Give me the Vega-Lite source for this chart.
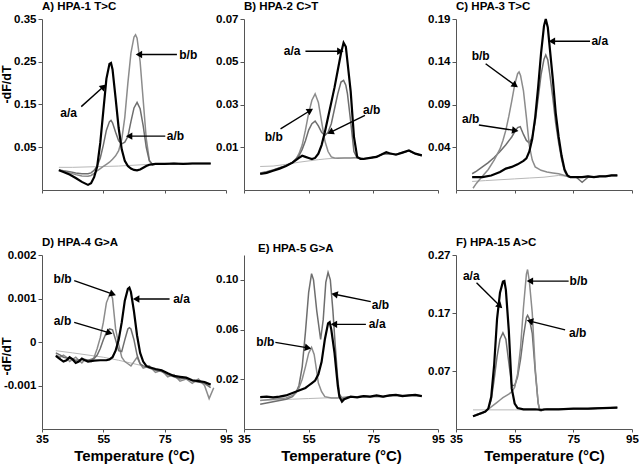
{
"$schema":"https://vega.github.io/schema/vega-lite/v6.json",
"background":"white",
"padding":{"left":0,"top":0,"right":0,"bottom":0},
"config":{
 "font":"Liberation Sans",
 "view":{"stroke":null},
 "axis":{"grid":false,"labelFont":"Liberation Sans","labelFontSize":11.5,"labelFontWeight":"bold","labelColor":"#000","domainColor":"#555","tickColor":"#555","tickSize":4,"labelPadding":2,"labelOverlap":false,"titleFont":"Liberation Sans","titleFontWeight":"bold","titleColor":"#000","titleFontSize":12.5},
 "axisX":{"labelFontSize":11.5,"titleFontSize":15,"titlePadding":4,"labelPadding":1,"tickSize":3,"labelFlush":false},
 "title":{"anchor":"start","fontSize":11.5,"fontWeight":"bold","font":"Liberation Sans","offset":1,"color":"#000","frame":"group"}
},
"datasets":{
"curves":[
{"p":"A","s":"aa","t":40.5,"v":-0.004},{"p":"A","s":"aa","t":42,"v":-0.008},{"p":"A","s":"aa","t":44,"v":-0.014},{"p":"A","s":"aa","t":46,"v":-0.022},{"p":"A","s":"aa","t":48,"v":-0.031},{"p":"A","s":"aa","t":50,"v":-0.038},{"p":"A","s":"aa","t":51,"v":-0.034},{"p":"A","s":"aa","t":52,"v":-0.02},{"p":"A","s":"aa","t":53,"v":0.005},{"p":"A","s":"aa","t":54,"v":0.06},{"p":"A","s":"aa","t":55,"v":0.135},{"p":"A","s":"aa","t":56,"v":0.21},{"p":"A","s":"aa","t":57,"v":0.245},{"p":"A","s":"aa","t":57.5,"v":0.247},{"p":"A","s":"aa","t":58,"v":0.232},{"p":"A","s":"aa","t":59,"v":0.165},{"p":"A","s":"aa","t":60,"v":0.095},{"p":"A","s":"aa","t":61,"v":0.045},{"p":"A","s":"aa","t":62,"v":0.018},{"p":"A","s":"aa","t":63,"v":0.006},{"p":"A","s":"aa","t":64,"v":0.0},{"p":"A","s":"aa","t":65,"v":-0.003},{"p":"A","s":"aa","t":66,"v":-0.004},{"p":"A","s":"aa","t":67,"v":-0.002},{"p":"A","s":"aa","t":68,"v":0.002},{"p":"A","s":"aa","t":69,"v":0.006},{"p":"A","s":"aa","t":70,"v":0.009},{"p":"A","s":"aa","t":71,"v":0.01},{"p":"A","s":"aa","t":72,"v":0.011},{"p":"A","s":"aa","t":75,"v":0.011},{"p":"A","s":"aa","t":78,"v":0.012},{"p":"A","s":"aa","t":81,"v":0.011},{"p":"A","s":"aa","t":84,"v":0.012},{"p":"A","s":"aa","t":87,"v":0.012},{"p":"A","s":"aa","t":90,"v":0.012},
{"p":"A","s":"bb","t":40.5,"v":-0.003},{"p":"A","s":"bb","t":42,"v":-0.006},{"p":"A","s":"bb","t":44,"v":-0.01},{"p":"A","s":"bb","t":46,"v":-0.014},{"p":"A","s":"bb","t":48,"v":-0.017},{"p":"A","s":"bb","t":50,"v":-0.018},{"p":"A","s":"bb","t":51,"v":-0.016},{"p":"A","s":"bb","t":52,"v":-0.011},{"p":"A","s":"bb","t":53,"v":-0.005},{"p":"A","s":"bb","t":54,"v":0.0},{"p":"A","s":"bb","t":55,"v":0.005},{"p":"A","s":"bb","t":56,"v":0.01},{"p":"A","s":"bb","t":57,"v":0.015},{"p":"A","s":"bb","t":58,"v":0.022},{"p":"A","s":"bb","t":59,"v":0.03},{"p":"A","s":"bb","t":60,"v":0.042},{"p":"A","s":"bb","t":61,"v":0.068},{"p":"A","s":"bb","t":62,"v":0.12},{"p":"A","s":"bb","t":63,"v":0.2},{"p":"A","s":"bb","t":64,"v":0.27},{"p":"A","s":"bb","t":65,"v":0.308},{"p":"A","s":"bb","t":65.5,"v":0.313},{"p":"A","s":"bb","t":66,"v":0.305},{"p":"A","s":"bb","t":67,"v":0.25},{"p":"A","s":"bb","t":68,"v":0.16},{"p":"A","s":"bb","t":69,"v":0.07},{"p":"A","s":"bb","t":70,"v":0.02},{"p":"A","s":"bb","t":71,"v":0.009},{"p":"A","s":"bb","t":72,"v":0.011},{"p":"A","s":"bb","t":75,"v":0.011},{"p":"A","s":"bb","t":78,"v":0.012},{"p":"A","s":"bb","t":81,"v":0.011},{"p":"A","s":"bb","t":84,"v":0.012},{"p":"A","s":"bb","t":87,"v":0.012},{"p":"A","s":"bb","t":90,"v":0.012},
{"p":"A","s":"ab","t":40.5,"v":-0.003},{"p":"A","s":"ab","t":42,"v":-0.005},{"p":"A","s":"ab","t":44,"v":-0.007},{"p":"A","s":"ab","t":46,"v":-0.01},{"p":"A","s":"ab","t":48,"v":-0.012},{"p":"A","s":"ab","t":50,"v":-0.012},{"p":"A","s":"ab","t":51,"v":-0.01},{"p":"A","s":"ab","t":52,"v":-0.004},{"p":"A","s":"ab","t":53,"v":0.006},{"p":"A","s":"ab","t":54,"v":0.025},{"p":"A","s":"ab","t":55,"v":0.055},{"p":"A","s":"ab","t":56,"v":0.09},{"p":"A","s":"ab","t":57,"v":0.11},{"p":"A","s":"ab","t":57.5,"v":0.113},{"p":"A","s":"ab","t":58,"v":0.107},{"p":"A","s":"ab","t":59,"v":0.085},{"p":"A","s":"ab","t":60,"v":0.065},{"p":"A","s":"ab","t":61,"v":0.058},{"p":"A","s":"ab","t":62,"v":0.062},{"p":"A","s":"ab","t":63,"v":0.075},{"p":"A","s":"ab","t":64,"v":0.11},{"p":"A","s":"ab","t":65,"v":0.142},{"p":"A","s":"ab","t":66,"v":0.155},{"p":"A","s":"ab","t":67,"v":0.14},{"p":"A","s":"ab","t":68,"v":0.1},{"p":"A","s":"ab","t":69,"v":0.05},{"p":"A","s":"ab","t":70,"v":0.018},{"p":"A","s":"ab","t":71,"v":0.01},{"p":"A","s":"ab","t":72,"v":0.011},{"p":"A","s":"ab","t":75,"v":0.011},{"p":"A","s":"ab","t":78,"v":0.012},{"p":"A","s":"ab","t":81,"v":0.011},{"p":"A","s":"ab","t":84,"v":0.012},{"p":"A","s":"ab","t":87,"v":0.012},{"p":"A","s":"ab","t":90,"v":0.012},
{"p":"A","s":"bl","t":40.5,"v":0.003},{"p":"A","s":"bl","t":45,"v":0.003},{"p":"A","s":"bl","t":50,"v":0.004},{"p":"A","s":"bl","t":55,"v":0.005},{"p":"A","s":"bl","t":60,"v":0.006},{"p":"A","s":"bl","t":65,"v":0.008},{"p":"A","s":"bl","t":70,"v":0.01},{"p":"A","s":"bl","t":72,"v":0.011},
{"p":"B","s":"aa","t":40,"v":-0.0025},{"p":"B","s":"aa","t":42,"v":-0.002},{"p":"B","s":"aa","t":44,"v":-0.001},{"p":"B","s":"aa","t":46,"v":0.0},{"p":"B","s":"aa","t":48,"v":0.0012},{"p":"B","s":"aa","t":50,"v":0.0028},{"p":"B","s":"aa","t":52,"v":0.005},{"p":"B","s":"aa","t":53,"v":0.006},{"p":"B","s":"aa","t":54,"v":0.0055},{"p":"B","s":"aa","t":55,"v":0.005},{"p":"B","s":"aa","t":56,"v":0.0045},{"p":"B","s":"aa","t":57,"v":0.005},{"p":"B","s":"aa","t":58,"v":0.007},{"p":"B","s":"aa","t":59,"v":0.011},{"p":"B","s":"aa","t":60,"v":0.017},{"p":"B","s":"aa","t":61,"v":0.024},{"p":"B","s":"aa","t":62,"v":0.031},{"p":"B","s":"aa","t":63,"v":0.038},{"p":"B","s":"aa","t":64,"v":0.046},{"p":"B","s":"aa","t":65,"v":0.054},{"p":"B","s":"aa","t":65.8,"v":0.0589},{"p":"B","s":"aa","t":66.5,"v":0.057},{"p":"B","s":"aa","t":67,"v":0.05},{"p":"B","s":"aa","t":68,"v":0.036},{"p":"B","s":"aa","t":69,"v":0.015},{"p":"B","s":"aa","t":70,"v":0.0055},{"p":"B","s":"aa","t":71,"v":0.0045},{"p":"B","s":"aa","t":72,"v":0.0045},{"p":"B","s":"aa","t":74,"v":0.005},{"p":"B","s":"aa","t":76,"v":0.0055},{"p":"B","s":"aa","t":78,"v":0.007},{"p":"B","s":"aa","t":79,"v":0.0077},{"p":"B","s":"aa","t":80,"v":0.0072},{"p":"B","s":"aa","t":82,"v":0.0065},{"p":"B","s":"aa","t":84,"v":0.0075},{"p":"B","s":"aa","t":86,"v":0.0085},{"p":"B","s":"aa","t":88,"v":0.007},{"p":"B","s":"aa","t":90,"v":0.0062},
{"p":"B","s":"bb","t":40,"v":-0.0022},{"p":"B","s":"bb","t":42,"v":-0.0017},{"p":"B","s":"bb","t":44,"v":-0.0007},{"p":"B","s":"bb","t":46,"v":0.0003},{"p":"B","s":"bb","t":48,"v":0.0013},{"p":"B","s":"bb","t":50,"v":0.0028},{"p":"B","s":"bb","t":51,"v":0.0042},{"p":"B","s":"bb","t":52,"v":0.007},{"p":"B","s":"bb","t":53,"v":0.011},{"p":"B","s":"bb","t":54,"v":0.018},{"p":"B","s":"bb","t":55,"v":0.026},{"p":"B","s":"bb","t":56,"v":0.032},{"p":"B","s":"bb","t":57,"v":0.035},{"p":"B","s":"bb","t":58,"v":0.031},{"p":"B","s":"bb","t":59,"v":0.022},{"p":"B","s":"bb","t":60,"v":0.013},{"p":"B","s":"bb","t":61,"v":0.008},{"p":"B","s":"bb","t":62,"v":0.0055},{"p":"B","s":"bb","t":63,"v":0.005},{"p":"B","s":"bb","t":64,"v":0.0048},{"p":"B","s":"bb","t":66,"v":0.005},{"p":"B","s":"bb","t":68,"v":0.005},{"p":"B","s":"bb","t":70,"v":0.0052},{"p":"B","s":"bb","t":72,"v":0.0046},{"p":"B","s":"bb","t":74,"v":0.005},{"p":"B","s":"bb","t":76,"v":0.0056},{"p":"B","s":"bb","t":78,"v":0.0068},{"p":"B","s":"bb","t":80,"v":0.007},{"p":"B","s":"bb","t":82,"v":0.0066},{"p":"B","s":"bb","t":84,"v":0.0074},{"p":"B","s":"bb","t":86,"v":0.0083},{"p":"B","s":"bb","t":88,"v":0.0069},{"p":"B","s":"bb","t":90,"v":0.006},
{"p":"B","s":"ab","t":40,"v":-0.002},{"p":"B","s":"ab","t":42,"v":-0.0015},{"p":"B","s":"ab","t":44,"v":-0.0006},{"p":"B","s":"ab","t":46,"v":0.0004},{"p":"B","s":"ab","t":48,"v":0.0014},{"p":"B","s":"ab","t":50,"v":0.003},{"p":"B","s":"ab","t":51,"v":0.0045},{"p":"B","s":"ab","t":52,"v":0.006},{"p":"B","s":"ab","t":53,"v":0.009},{"p":"B","s":"ab","t":54,"v":0.013},{"p":"B","s":"ab","t":55,"v":0.018},{"p":"B","s":"ab","t":56,"v":0.021},{"p":"B","s":"ab","t":57,"v":0.0222},{"p":"B","s":"ab","t":58,"v":0.02},{"p":"B","s":"ab","t":59,"v":0.017},{"p":"B","s":"ab","t":60,"v":0.0155},{"p":"B","s":"ab","t":61,"v":0.017},{"p":"B","s":"ab","t":62,"v":0.021},{"p":"B","s":"ab","t":63,"v":0.028},{"p":"B","s":"ab","t":64,"v":0.035},{"p":"B","s":"ab","t":65,"v":0.0405},{"p":"B","s":"ab","t":65.8,"v":0.0413},{"p":"B","s":"ab","t":66.5,"v":0.039},{"p":"B","s":"ab","t":67,"v":0.035},{"p":"B","s":"ab","t":68,"v":0.022},{"p":"B","s":"ab","t":69,"v":0.008},{"p":"B","s":"ab","t":70,"v":0.005},{"p":"B","s":"ab","t":72,"v":0.0047},{"p":"B","s":"ab","t":74,"v":0.005},{"p":"B","s":"ab","t":76,"v":0.0057},{"p":"B","s":"ab","t":78,"v":0.0069},{"p":"B","s":"ab","t":80,"v":0.0071},{"p":"B","s":"ab","t":82,"v":0.0067},{"p":"B","s":"ab","t":84,"v":0.0076},{"p":"B","s":"ab","t":86,"v":0.0084},{"p":"B","s":"ab","t":88,"v":0.007},{"p":"B","s":"ab","t":90,"v":0.0061},
{"p":"B","s":"bl","t":40,"v":0.001},{"p":"B","s":"bl","t":44,"v":0.0012},{"p":"B","s":"bl","t":48,"v":0.002},{"p":"B","s":"bl","t":52,"v":0.003},{"p":"B","s":"bl","t":56,"v":0.0038},{"p":"B","s":"bl","t":58,"v":0.0042},{"p":"B","s":"bl","t":60,"v":0.0045},{"p":"B","s":"bl","t":64,"v":0.005},{"p":"B","s":"bl","t":68,"v":0.005},{"p":"B","s":"bl","t":70,"v":0.005},
{"p":"C","s":"aa","t":40.5,"v":0.005},{"p":"C","s":"aa","t":44,"v":0.005},{"p":"C","s":"aa","t":47,"v":0.007},{"p":"C","s":"aa","t":50,"v":0.011},{"p":"C","s":"aa","t":52,"v":0.015},{"p":"C","s":"aa","t":54,"v":0.017},{"p":"C","s":"aa","t":56,"v":0.02},{"p":"C","s":"aa","t":58,"v":0.024},{"p":"C","s":"aa","t":59,"v":0.027},{"p":"C","s":"aa","t":60,"v":0.035},{"p":"C","s":"aa","t":61,"v":0.05},{"p":"C","s":"aa","t":62,"v":0.075},{"p":"C","s":"aa","t":63,"v":0.11},{"p":"C","s":"aa","t":64,"v":0.15},{"p":"C","s":"aa","t":65,"v":0.182},{"p":"C","s":"aa","t":65.6,"v":0.19},{"p":"C","s":"aa","t":66.3,"v":0.18},{"p":"C","s":"aa","t":67,"v":0.155},{"p":"C","s":"aa","t":68,"v":0.12},{"p":"C","s":"aa","t":69,"v":0.08},{"p":"C","s":"aa","t":70,"v":0.052},{"p":"C","s":"aa","t":71,"v":0.03},{"p":"C","s":"aa","t":72,"v":0.014},{"p":"C","s":"aa","t":73,"v":0.007},{"p":"C","s":"aa","t":74,"v":0.005},{"p":"C","s":"aa","t":76,"v":0.005},{"p":"C","s":"aa","t":78,"v":0.005},{"p":"C","s":"aa","t":80,"v":0.006},{"p":"C","s":"aa","t":82,"v":0.005},{"p":"C","s":"aa","t":84,"v":0.006},{"p":"C","s":"aa","t":86,"v":0.006},{"p":"C","s":"aa","t":88,"v":0.007},{"p":"C","s":"aa","t":90,"v":0.007},
{"p":"C","s":"ab","t":40.5,"v":0.009},{"p":"C","s":"ab","t":42,"v":0.012},{"p":"C","s":"ab","t":44,"v":0.017},{"p":"C","s":"ab","t":46,"v":0.022},{"p":"C","s":"ab","t":48,"v":0.028},{"p":"C","s":"ab","t":50,"v":0.035},{"p":"C","s":"ab","t":52,"v":0.043},{"p":"C","s":"ab","t":54,"v":0.052},{"p":"C","s":"ab","t":55,"v":0.058},{"p":"C","s":"ab","t":56,"v":0.063},{"p":"C","s":"ab","t":56.9,"v":0.064},{"p":"C","s":"ab","t":58,"v":0.055},{"p":"C","s":"ab","t":59,"v":0.048},{"p":"C","s":"ab","t":60,"v":0.045},{"p":"C","s":"ab","t":61,"v":0.052},{"p":"C","s":"ab","t":62,"v":0.07},{"p":"C","s":"ab","t":63,"v":0.097},{"p":"C","s":"ab","t":64,"v":0.125},{"p":"C","s":"ab","t":65,"v":0.143},{"p":"C","s":"ab","t":65.6,"v":0.148},{"p":"C","s":"ab","t":66.3,"v":0.142},{"p":"C","s":"ab","t":67,"v":0.125},{"p":"C","s":"ab","t":68,"v":0.098},{"p":"C","s":"ab","t":69,"v":0.068},{"p":"C","s":"ab","t":70,"v":0.045},{"p":"C","s":"ab","t":71,"v":0.026},{"p":"C","s":"ab","t":72,"v":0.012},{"p":"C","s":"ab","t":73,"v":0.006},{"p":"C","s":"ab","t":74,"v":0.005},{"p":"C","s":"ab","t":76,"v":0.005},{"p":"C","s":"ab","t":77,"v":0.002},{"p":"C","s":"ab","t":78,"v":-0.001},{"p":"C","s":"ab","t":79,"v":0.002},{"p":"C","s":"ab","t":80,"v":0.005},{"p":"C","s":"ab","t":82,"v":0.005},{"p":"C","s":"ab","t":84,"v":0.006},{"p":"C","s":"ab","t":86,"v":0.006},{"p":"C","s":"ab","t":88,"v":0.007},{"p":"C","s":"ab","t":90,"v":0.007},
{"p":"C","s":"bb","t":40.8,"v":-0.008},{"p":"C","s":"bb","t":42,"v":-0.002},{"p":"C","s":"bb","t":44,"v":0.006},{"p":"C","s":"bb","t":46,"v":0.014},{"p":"C","s":"bb","t":48,"v":0.025},{"p":"C","s":"bb","t":50,"v":0.038},{"p":"C","s":"bb","t":51,"v":0.048},{"p":"C","s":"bb","t":52,"v":0.06},{"p":"C","s":"bb","t":53,"v":0.076},{"p":"C","s":"bb","t":54,"v":0.094},{"p":"C","s":"bb","t":55,"v":0.113},{"p":"C","s":"bb","t":56,"v":0.126},{"p":"C","s":"bb","t":56.5,"v":0.128},{"p":"C","s":"bb","t":57,"v":0.124},{"p":"C","s":"bb","t":58,"v":0.106},{"p":"C","s":"bb","t":59,"v":0.075},{"p":"C","s":"bb","t":60,"v":0.042},{"p":"C","s":"bb","t":61,"v":0.025},{"p":"C","s":"bb","t":62,"v":0.017},{"p":"C","s":"bb","t":64,"v":0.013},{"p":"C","s":"bb","t":66,"v":0.011},{"p":"C","s":"bb","t":68,"v":0.01},{"p":"C","s":"bb","t":70,"v":0.009},{"p":"C","s":"bb","t":72,"v":0.007},{"p":"C","s":"bb","t":74,"v":0.005},{"p":"C","s":"bb","t":76,"v":0.005},{"p":"C","s":"bb","t":78,"v":0.005},{"p":"C","s":"bb","t":80,"v":0.006},{"p":"C","s":"bb","t":82,"v":0.005},{"p":"C","s":"bb","t":84,"v":0.006},{"p":"C","s":"bb","t":86,"v":0.006},{"p":"C","s":"bb","t":88,"v":0.007},{"p":"C","s":"bb","t":90,"v":0.007},
{"p":"C","s":"bl","t":40.5,"v":0.0},{"p":"C","s":"bl","t":45,"v":0.001},{"p":"C","s":"bl","t":50,"v":0.002},{"p":"C","s":"bl","t":55,"v":0.003},{"p":"C","s":"bl","t":60,"v":0.004},{"p":"C","s":"bl","t":65,"v":0.005},{"p":"C","s":"bl","t":70,"v":0.007},{"p":"C","s":"bl","t":73,"v":0.006},
{"p":"D","s":"aa","t":39.5,"v":-0.00032},{"p":"D","s":"aa","t":41,"v":-0.0004},{"p":"D","s":"aa","t":42,"v":-0.00045},{"p":"D","s":"aa","t":43,"v":-0.00042},{"p":"D","s":"aa","t":44,"v":-0.00035},{"p":"D","s":"aa","t":45,"v":-0.0004},{"p":"D","s":"aa","t":46,"v":-0.00048},{"p":"D","s":"aa","t":47,"v":-0.00045},{"p":"D","s":"aa","t":48,"v":-0.00038},{"p":"D","s":"aa","t":49,"v":-0.00042},{"p":"D","s":"aa","t":50,"v":-0.00045},{"p":"D","s":"aa","t":52,"v":-0.00043},{"p":"D","s":"aa","t":54,"v":-0.00042},{"p":"D","s":"aa","t":56,"v":-0.00042},{"p":"D","s":"aa","t":57,"v":-0.0004},{"p":"D","s":"aa","t":58,"v":-0.00035},{"p":"D","s":"aa","t":59,"v":-0.0002},{"p":"D","s":"aa","t":60,"v":0.00005},{"p":"D","s":"aa","t":61,"v":0.00045},{"p":"D","s":"aa","t":62,"v":0.00095},{"p":"D","s":"aa","t":63,"v":0.00122},{"p":"D","s":"aa","t":63.5,"v":0.00125},{"p":"D","s":"aa","t":64,"v":0.00115},{"p":"D","s":"aa","t":65,"v":0.0007},{"p":"D","s":"aa","t":66,"v":0.00015},{"p":"D","s":"aa","t":67,"v":-0.00025},{"p":"D","s":"aa","t":68,"v":-0.00045},{"p":"D","s":"aa","t":69,"v":-0.00055},{"p":"D","s":"aa","t":70,"v":-0.00058},{"p":"D","s":"aa","t":72,"v":-0.00062},{"p":"D","s":"aa","t":74,"v":-0.00065},{"p":"D","s":"aa","t":76,"v":-0.00072},{"p":"D","s":"aa","t":78,"v":-0.00078},{"p":"D","s":"aa","t":80,"v":-0.0008},{"p":"D","s":"aa","t":82,"v":-0.00082},{"p":"D","s":"aa","t":84,"v":-0.00088},{"p":"D","s":"aa","t":86,"v":-0.0009},{"p":"D","s":"aa","t":88,"v":-0.00092},{"p":"D","s":"aa","t":90,"v":-0.00098},
{"p":"D","s":"bb","t":39.5,"v":-0.0003},{"p":"D","s":"bb","t":41,"v":-0.00035},{"p":"D","s":"bb","t":42,"v":-0.0003},{"p":"D","s":"bb","t":43,"v":-0.00035},{"p":"D","s":"bb","t":44,"v":-0.00045},{"p":"D","s":"bb","t":45,"v":-0.0004},{"p":"D","s":"bb","t":46,"v":-0.00035},{"p":"D","s":"bb","t":47,"v":-0.00042},{"p":"D","s":"bb","t":48,"v":-0.00048},{"p":"D","s":"bb","t":49,"v":-0.0004},{"p":"D","s":"bb","t":50,"v":-0.00042},{"p":"D","s":"bb","t":51,"v":-0.00045},{"p":"D","s":"bb","t":52,"v":-0.00035},{"p":"D","s":"bb","t":53,"v":-0.00015},{"p":"D","s":"bb","t":54,"v":0.0001},{"p":"D","s":"bb","t":55,"v":0.00045},{"p":"D","s":"bb","t":56,"v":0.0009},{"p":"D","s":"bb","t":57,"v":0.00108},{"p":"D","s":"bb","t":57.5,"v":0.0011},{"p":"D","s":"bb","t":58,"v":0.001},{"p":"D","s":"bb","t":59,"v":0.0003},{"p":"D","s":"bb","t":60,"v":-0.00005},{"p":"D","s":"bb","t":61,"v":-0.00035},{"p":"D","s":"bb","t":62,"v":-0.00045},{"p":"D","s":"bb","t":63,"v":-0.0005},{"p":"D","s":"bb","t":64,"v":-0.00055},{"p":"D","s":"bb","t":65,"v":-0.00045},{"p":"D","s":"bb","t":66,"v":-0.00035},{"p":"D","s":"bb","t":67,"v":-0.0005},{"p":"D","s":"bb","t":68,"v":-0.0006},{"p":"D","s":"bb","t":70,"v":-0.00055},{"p":"D","s":"bb","t":72,"v":-0.0007},{"p":"D","s":"bb","t":74,"v":-0.00065},{"p":"D","s":"bb","t":76,"v":-0.0008},{"p":"D","s":"bb","t":78,"v":-0.00075},{"p":"D","s":"bb","t":80,"v":-0.0009},{"p":"D","s":"bb","t":82,"v":-0.00085},{"p":"D","s":"bb","t":84,"v":-0.00095},{"p":"D","s":"bb","t":86,"v":-0.00085},{"p":"D","s":"bb","t":88,"v":-0.001},{"p":"D","s":"bb","t":89.5,"v":-0.0013},{"p":"D","s":"bb","t":91,"v":-0.00105},
{"p":"D","s":"ab","t":39.5,"v":-0.00025},{"p":"D","s":"ab","t":41,"v":-0.0003},{"p":"D","s":"ab","t":42,"v":-0.00035},{"p":"D","s":"ab","t":44,"v":-0.00038},{"p":"D","s":"ab","t":46,"v":-0.00042},{"p":"D","s":"ab","t":48,"v":-0.0004},{"p":"D","s":"ab","t":50,"v":-0.00042},{"p":"D","s":"ab","t":52,"v":-0.00038},{"p":"D","s":"ab","t":53,"v":-0.0003},{"p":"D","s":"ab","t":54,"v":-0.00015},{"p":"D","s":"ab","t":55,"v":0.00005},{"p":"D","s":"ab","t":56,"v":0.00022},{"p":"D","s":"ab","t":57,"v":0.0003},{"p":"D","s":"ab","t":58,"v":0.00028},{"p":"D","s":"ab","t":59,"v":0.00005},{"p":"D","s":"ab","t":60,"v":-0.0002},{"p":"D","s":"ab","t":61,"v":-0.00022},{"p":"D","s":"ab","t":62,"v":0.00005},{"p":"D","s":"ab","t":63,"v":0.0003},{"p":"D","s":"ab","t":63.5,"v":0.00033},{"p":"D","s":"ab","t":64,"v":0.0003},{"p":"D","s":"ab","t":65,"v":0.00005},{"p":"D","s":"ab","t":66,"v":-0.0003},{"p":"D","s":"ab","t":67,"v":-0.0005},{"p":"D","s":"ab","t":68,"v":-0.00055},{"p":"D","s":"ab","t":70,"v":-0.0006},{"p":"D","s":"ab","t":72,"v":-0.00065},{"p":"D","s":"ab","t":74,"v":-0.00068},{"p":"D","s":"ab","t":76,"v":-0.00075},{"p":"D","s":"ab","t":78,"v":-0.0008},{"p":"D","s":"ab","t":80,"v":-0.00085},{"p":"D","s":"ab","t":82,"v":-0.00082},{"p":"D","s":"ab","t":84,"v":-0.0009},{"p":"D","s":"ab","t":86,"v":-0.00092},{"p":"D","s":"ab","t":88,"v":-0.00095},{"p":"D","s":"ab","t":90,"v":-0.00105},
{"p":"D","s":"bl","t":39.5,"v":-0.0002},{"p":"D","s":"bl","t":45,"v":-0.00025},{"p":"D","s":"bl","t":50,"v":-0.0003},{"p":"D","s":"bl","t":55,"v":-0.00035},{"p":"D","s":"bl","t":60,"v":-0.00042},{"p":"D","s":"bl","t":65,"v":-0.0005},{"p":"D","s":"bl","t":68,"v":-0.00055},
{"p":"E","s":"aa","t":40,"v":0.0057},{"p":"E","s":"aa","t":42,"v":0.006},{"p":"E","s":"aa","t":44,"v":0.0055},{"p":"E","s":"aa","t":46,"v":0.006},{"p":"E","s":"aa","t":48,"v":0.007},{"p":"E","s":"aa","t":50,"v":0.009},{"p":"E","s":"aa","t":52,"v":0.011},{"p":"E","s":"aa","t":54,"v":0.013},{"p":"E","s":"aa","t":55,"v":0.015},{"p":"E","s":"aa","t":56,"v":0.017},{"p":"E","s":"aa","t":57,"v":0.019},{"p":"E","s":"aa","t":58,"v":0.024},{"p":"E","s":"aa","t":59,"v":0.034},{"p":"E","s":"aa","t":60,"v":0.052},{"p":"E","s":"aa","t":61,"v":0.065},{"p":"E","s":"aa","t":61.5,"v":0.066},{"p":"E","s":"aa","t":62,"v":0.06},{"p":"E","s":"aa","t":63,"v":0.041},{"p":"E","s":"aa","t":64,"v":0.015},{"p":"E","s":"aa","t":64.5,"v":0.006},{"p":"E","s":"aa","t":65.3,"v":0.002},{"p":"E","s":"aa","t":66,"v":0.004},{"p":"E","s":"aa","t":68,"v":0.006},{"p":"E","s":"aa","t":70,"v":0.0055},{"p":"E","s":"aa","t":72,"v":0.0065},{"p":"E","s":"aa","t":74,"v":0.006},{"p":"E","s":"aa","t":76,"v":0.007},{"p":"E","s":"aa","t":78,"v":0.006},{"p":"E","s":"aa","t":80,"v":0.007},{"p":"E","s":"aa","t":82,"v":0.0075},{"p":"E","s":"aa","t":84,"v":0.0065},{"p":"E","s":"aa","t":86,"v":0.007},{"p":"E","s":"aa","t":88,"v":0.0075},{"p":"E","s":"aa","t":90,"v":0.0065},
{"p":"E","s":"ab","t":40,"v":0.0},{"p":"E","s":"ab","t":42,"v":0.001},{"p":"E","s":"ab","t":44,"v":0.002},{"p":"E","s":"ab","t":46,"v":0.003},{"p":"E","s":"ab","t":48,"v":0.004},{"p":"E","s":"ab","t":50,"v":0.006},{"p":"E","s":"ab","t":51,"v":0.009},{"p":"E","s":"ab","t":52,"v":0.015},{"p":"E","s":"ab","t":53,"v":0.03},{"p":"E","s":"ab","t":54,"v":0.058},{"p":"E","s":"ab","t":55,"v":0.09},{"p":"E","s":"ab","t":55.9,"v":0.105},{"p":"E","s":"ab","t":56.5,"v":0.1},{"p":"E","s":"ab","t":57.5,"v":0.075},{"p":"E","s":"ab","t":58.7,"v":0.052},{"p":"E","s":"ab","t":59.5,"v":0.068},{"p":"E","s":"ab","t":60.3,"v":0.098},{"p":"E","s":"ab","t":61,"v":0.106},{"p":"E","s":"ab","t":61.7,"v":0.1},{"p":"E","s":"ab","t":62.5,"v":0.075},{"p":"E","s":"ab","t":63.2,"v":0.048},{"p":"E","s":"ab","t":64,"v":0.02},{"p":"E","s":"ab","t":64.5,"v":0.008},{"p":"E","s":"ab","t":65.5,"v":0.004},{"p":"E","s":"ab","t":67,"v":0.006},{"p":"E","s":"ab","t":70,"v":0.006},{"p":"E","s":"ab","t":72,"v":0.0065},{"p":"E","s":"ab","t":74,"v":0.006},{"p":"E","s":"ab","t":76,"v":0.0068},{"p":"E","s":"ab","t":78,"v":0.006},{"p":"E","s":"ab","t":80,"v":0.007},{"p":"E","s":"ab","t":82,"v":0.0073},{"p":"E","s":"ab","t":84,"v":0.0066},{"p":"E","s":"ab","t":86,"v":0.007},{"p":"E","s":"ab","t":88,"v":0.0074},{"p":"E","s":"ab","t":90,"v":0.0066},
{"p":"E","s":"bb","t":40,"v":0.003},{"p":"E","s":"bb","t":44,"v":0.004},{"p":"E","s":"bb","t":48,"v":0.005},{"p":"E","s":"bb","t":50,"v":0.007},{"p":"E","s":"bb","t":51,"v":0.009},{"p":"E","s":"bb","t":52,"v":0.013},{"p":"E","s":"bb","t":53,"v":0.02},{"p":"E","s":"bb","t":54,"v":0.03},{"p":"E","s":"bb","t":55,"v":0.041},{"p":"E","s":"bb","t":55.9,"v":0.0456},{"p":"E","s":"bb","t":56.7,"v":0.04},{"p":"E","s":"bb","t":57.4,"v":0.028},{"p":"E","s":"bb","t":58,"v":0.017},{"p":"E","s":"bb","t":59,"v":0.01},{"p":"E","s":"bb","t":60,"v":0.006},{"p":"E","s":"bb","t":62,"v":0.005},{"p":"E","s":"bb","t":64,"v":0.005},{"p":"E","s":"bb","t":66,"v":0.0055},{"p":"E","s":"bb","t":70,"v":0.006},{"p":"E","s":"bb","t":74,"v":0.006},{"p":"E","s":"bb","t":78,"v":0.006},{"p":"E","s":"bb","t":82,"v":0.0072},{"p":"E","s":"bb","t":86,"v":0.007},{"p":"E","s":"bb","t":90,"v":0.0065},
{"p":"E","s":"bl","t":40,"v":0.003},{"p":"E","s":"bl","t":45,"v":0.0035},{"p":"E","s":"bl","t":50,"v":0.004},{"p":"E","s":"bl","t":55,"v":0.0045},{"p":"E","s":"bl","t":60,"v":0.005},{"p":"E","s":"bl","t":64,"v":0.005},
{"p":"F","s":"aa","t":40.8,"v":-0.008},{"p":"F","s":"aa","t":42,"v":-0.006},{"p":"F","s":"aa","t":43.5,"v":-0.003},{"p":"F","s":"aa","t":45,"v":0.0},{"p":"F","s":"aa","t":46,"v":0.005},{"p":"F","s":"aa","t":47,"v":0.025},{"p":"F","s":"aa","t":48,"v":0.08},{"p":"F","s":"aa","t":49,"v":0.16},{"p":"F","s":"aa","t":50,"v":0.205},{"p":"F","s":"aa","t":51,"v":0.224},{"p":"F","s":"aa","t":51.5,"v":0.225},{"p":"F","s":"aa","t":52,"v":0.21},{"p":"F","s":"aa","t":53,"v":0.14},{"p":"F","s":"aa","t":54,"v":0.04},{"p":"F","s":"aa","t":55,"v":0.014},{"p":"F","s":"aa","t":56,"v":0.006},{"p":"F","s":"aa","t":58,"v":0.004},{"p":"F","s":"aa","t":60,"v":0.004},{"p":"F","s":"aa","t":62,"v":0.004},{"p":"F","s":"aa","t":64,"v":0.003},{"p":"F","s":"aa","t":66,"v":0.004},{"p":"F","s":"aa","t":70,"v":0.004},{"p":"F","s":"aa","t":75,"v":0.005},{"p":"F","s":"aa","t":80,"v":0.005},{"p":"F","s":"aa","t":85,"v":0.006},{"p":"F","s":"aa","t":90,"v":0.007},
{"p":"F","s":"ab","t":40.8,"v":-0.008},{"p":"F","s":"ab","t":42,"v":-0.006},{"p":"F","s":"ab","t":44,"v":-0.003},{"p":"F","s":"ab","t":45,"v":0.0},{"p":"F","s":"ab","t":46,"v":0.005},{"p":"F","s":"ab","t":47,"v":0.02},{"p":"F","s":"ab","t":48,"v":0.055},{"p":"F","s":"ab","t":49,"v":0.095},{"p":"F","s":"ab","t":50,"v":0.125},{"p":"F","s":"ab","t":51,"v":0.136},{"p":"F","s":"ab","t":52,"v":0.125},{"p":"F","s":"ab","t":53,"v":0.085},{"p":"F","s":"ab","t":54,"v":0.045},{"p":"F","s":"ab","t":55,"v":0.045},{"p":"F","s":"ab","t":56,"v":0.06},{"p":"F","s":"ab","t":57,"v":0.09},{"p":"F","s":"ab","t":58,"v":0.13},{"p":"F","s":"ab","t":59,"v":0.162},{"p":"F","s":"ab","t":59.4,"v":0.166},{"p":"F","s":"ab","t":60,"v":0.16},{"p":"F","s":"ab","t":61,"v":0.135},{"p":"F","s":"ab","t":62,"v":0.07},{"p":"F","s":"ab","t":63,"v":0.015},{"p":"F","s":"ab","t":63.5,"v":0.004},{"p":"F","s":"ab","t":64,"v":0.002},{"p":"F","s":"ab","t":65,"v":0.004},{"p":"F","s":"ab","t":70,"v":0.004},{"p":"F","s":"ab","t":75,"v":0.005},{"p":"F","s":"ab","t":80,"v":0.005},{"p":"F","s":"ab","t":85,"v":0.006},{"p":"F","s":"ab","t":90,"v":0.007},
{"p":"F","s":"bb","t":40.8,"v":-0.008},{"p":"F","s":"bb","t":42,"v":-0.005},{"p":"F","s":"bb","t":44,"v":-0.002},{"p":"F","s":"bb","t":45,"v":0.0},{"p":"F","s":"bb","t":46,"v":0.004},{"p":"F","s":"bb","t":47,"v":0.008},{"p":"F","s":"bb","t":48,"v":0.012},{"p":"F","s":"bb","t":49,"v":0.016},{"p":"F","s":"bb","t":50,"v":0.02},{"p":"F","s":"bb","t":51,"v":0.024},{"p":"F","s":"bb","t":52,"v":0.027},{"p":"F","s":"bb","t":53,"v":0.03},{"p":"F","s":"bb","t":54,"v":0.034},{"p":"F","s":"bb","t":55,"v":0.042},{"p":"F","s":"bb","t":56,"v":0.065},{"p":"F","s":"bb","t":57,"v":0.11},{"p":"F","s":"bb","t":58,"v":0.18},{"p":"F","s":"bb","t":59,"v":0.237},{"p":"F","s":"bb","t":59.4,"v":0.245},{"p":"F","s":"bb","t":60,"v":0.225},{"p":"F","s":"bb","t":61,"v":0.17},{"p":"F","s":"bb","t":62,"v":0.075},{"p":"F","s":"bb","t":63,"v":0.015},{"p":"F","s":"bb","t":63.5,"v":0.002},{"p":"F","s":"bb","t":64,"v":0.001},{"p":"F","s":"bb","t":65,"v":0.004},{"p":"F","s":"bb","t":70,"v":0.004},{"p":"F","s":"bb","t":75,"v":0.005},{"p":"F","s":"bb","t":80,"v":0.005},{"p":"F","s":"bb","t":85,"v":0.006},{"p":"F","s":"bb","t":90,"v":0.007},
{"p":"F","s":"bl","t":40.8,"v":0.003},{"p":"F","s":"bl","t":50,"v":0.003},{"p":"F","s":"bl","t":55,"v":0.003},{"p":"F","s":"bl","t":60,"v":0.003},{"p":"F","s":"bl","t":63,"v":0.003}
],
"notes":[
{"p":"A","lab":"a/a","lt":43.7,"lv":0.129,"t1":47.8,"v1":0.145,"t2":55.1,"v2":0.192,"dir":-41.5},
{"p":"A","lab":"b/b","lt":82.7,"lv":0.265,"t1":79,"v1":0.267,"t2":66.6,"v2":0.267,"dir":180},
{"p":"A","lab":"a/b","lt":78.5,"lv":0.076,"t1":75.2,"v1":0.076,"t2":63.4,"v2":0.076,"dir":180},
{"p":"B","lab":"a/a","lt":49.9,"lv":0.0549,"t1":54,"v1":0.0549,"t2":64.8,"v2":0.0549,"dir":0},
{"p":"B","lab":"b/b","lt":44.2,"lv":0.0147,"t1":46.3,"v1":0.0186,"t2":55.5,"v2":0.0272,"dir":-31.5},
{"p":"B","lab":"a/b","lt":74.5,"lv":0.0272,"t1":72.4,"v1":0.0249,"t2":61.7,"v2":0.017,"dir":154.5},
{"p":"C","lab":"a/a","lt":84,"lv":0.164,"t1":80.7,"v1":0.164,"t2":67.7,"v2":0.164,"dir":180},
{"p":"C","lab":"b/b","lt":43.4,"lv":0.1466,"t1":45.1,"v1":0.1376,"t2":55.2,"v2":0.1123,"dir":35.8},
{"p":"C","lab":"a/b","lt":40,"lv":0.0725,"t1":42.8,"v1":0.0661,"t2":55.2,"v2":0.0596,"dir":8.7},
{"p":"D","lab":"b/b","lt":41.7,"lv":0.00145,"t1":45.5,"v1":0.00141,"t2":58.1,"v2":0.0011,"dir":19.2},
{"p":"D","lab":"a/b","lt":41.7,"lv":0.00048,"t1":45.5,"v1":0.00045,"t2":57,"v2":0.00021,"dir":16},
{"p":"D","lab":"a/a","lt":80.5,"lv":0.00099,"t1":76.6,"v1":0.00099,"t2":65.7,"v2":0.00099,"dir":180},
{"p":"E","lab":"a/b","lt":77.2,"lv":0.0798,"t1":74.2,"v1":0.0825,"t2":63,"v2":0.0884,"dir":191.4},
{"p":"E","lab":"a/a","lt":76.2,"lv":0.0642,"t1":72.7,"v1":0.0642,"t2":62.8,"v2":0.0642,"dir":180},
{"p":"E","lab":"b/b","lt":41.6,"lv":0.0497,"t1":44.7,"v1":0.0497,"t2":54.8,"v2":0.0453,"dir":10.2},
{"p":"F","lab":"a/a","lt":40.2,"lv":0.234,"t1":42,"v1":0.222,"t2":50,"v2":0.182,"dir":44.9},
{"p":"F","lab":"b/b","lt":76.8,"lv":0.225,"t1":73.4,"v1":0.225,"t2":60.2,"v2":0.225,"dir":180},
{"p":"F","lab":"a/b","lt":76.5,"lv":0.135,"t1":72.2,"v1":0.141,"t2":60.2,"v2":0.156,"dir":194.4}
]
},
"vconcat":[
{"hconcat":[
{"width":184,"height":171,"title":{"text":"A) HPA-1 T>C"},
"layer":[
{"data":{"name":"curves"},"transform":[{"filter":"datum.p==='A' && datum.s==='bl'"}],"mark":{"type":"line","color":"#b8b8b8","strokeWidth":1},
"encoding":{"x":{"field":"t","type":"quantitative","scale":{"domain":[35,95],"nice":false},"axis":{"values":[35,55,75,95],"labels":false,"title":null}},
"y":{"field":"v","type":"quantitative","scale":{"domain":[-0.05,0.35],"nice":false,"zero":false},"axis":{"values":[0.05,0.15,0.25,0.35],"format":".2f","title":"-dF/dT","titleX":-36,"titleY":65,"titleBaseline":"middle"}}}},
{"data":{"name":"curves"},"transform":[{"filter":"datum.p==='A' && (datum.s==='ab' || datum.s==='bb')"}],"mark":{"type":"line","strokeWidth":1.5},
"encoding":{"x":{"field":"t","type":"quantitative","scale":{"domain":[35,95],"nice":false}},"y":{"field":"v","type":"quantitative","scale":{"domain":[-0.05,0.35],"nice":false,"zero":false}},"color":{"field":"s","type":"nominal","scale":{"domain":["ab","bb"],"range":["#6e6e6e","#8c8c8c"]},"legend":null}}},
{"data":{"name":"curves"},"transform":[{"filter":"datum.p==='A' && datum.s==='aa'"}],"mark":{"type":"line","color":"#000","strokeWidth":2.2},
"encoding":{"x":{"field":"t","type":"quantitative","scale":{"domain":[35,95],"nice":false}},"y":{"field":"v","type":"quantitative","scale":{"domain":[-0.05,0.35],"nice":false,"zero":false}}}},
{"data":{"name":"notes"},"transform":[{"filter":"datum.p==='A'"}],"mark":{"type":"rule","color":"#000","strokeWidth":1.4},
"encoding":{"x":{"field":"t1","type":"quantitative","scale":{"domain":[35,95],"nice":false}},"y":{"field":"v1","type":"quantitative","scale":{"domain":[-0.05,0.35],"nice":false,"zero":false}},"x2":{"field":"t2"},"y2":{"field":"v2"}}},
{"data":{"name":"notes"},"transform":[{"filter":"datum.p==='A'"}],"mark":{"type":"point","shape":"triangle-right","filled":true,"color":"#000","opacity":1,"size":55},
"encoding":{"x":{"field":"t2","type":"quantitative","scale":{"domain":[35,95],"nice":false}},"y":{"field":"v2","type":"quantitative","scale":{"domain":[-0.05,0.35],"nice":false,"zero":false}},"angle":{"field":"dir","type":"quantitative","scale":null}}},
{"data":{"name":"notes"},"transform":[{"filter":"datum.p==='A'"}],"mark":{"type":"text","fontWeight":"bold","fontSize":12,"font":"Liberation Sans","color":"#000"},
"encoding":{"x":{"field":"lt","type":"quantitative","scale":{"domain":[35,95],"nice":false}},"y":{"field":"lv","type":"quantitative","scale":{"domain":[-0.05,0.35],"nice":false,"zero":false}},"text":{"field":"lab"}}}
]},
{"width":194,"height":171,"title":{"text":"B) HPA-2 C>T"},
"layer":[
{"data":{"name":"curves"},"transform":[{"filter":"datum.p==='B' && datum.s==='bl'"}],"mark":{"type":"line","color":"#b8b8b8","strokeWidth":1},
"encoding":{"x":{"field":"t","type":"quantitative","scale":{"domain":[35,95],"nice":false},"axis":{"values":[35,55,75,95],"labels":false,"title":null}},
"y":{"field":"v","type":"quantitative","scale":{"domain":[-0.01,0.07],"nice":false,"zero":false},"axis":{"values":[0.01,0.03,0.05,0.07],"format":".2f","title":null}}}},
{"data":{"name":"curves"},"transform":[{"filter":"datum.p==='B' && (datum.s==='ab' || datum.s==='bb')"}],"mark":{"type":"line","strokeWidth":1.5},
"encoding":{"x":{"field":"t","type":"quantitative","scale":{"domain":[35,95],"nice":false}},"y":{"field":"v","type":"quantitative","scale":{"domain":[-0.01,0.07],"nice":false,"zero":false}},"color":{"field":"s","type":"nominal","scale":{"domain":["ab","bb"],"range":["#6e6e6e","#8c8c8c"]},"legend":null}}},
{"data":{"name":"curves"},"transform":[{"filter":"datum.p==='B' && datum.s==='aa'"}],"mark":{"type":"line","color":"#000","strokeWidth":2.2},
"encoding":{"x":{"field":"t","type":"quantitative","scale":{"domain":[35,95],"nice":false}},"y":{"field":"v","type":"quantitative","scale":{"domain":[-0.01,0.07],"nice":false,"zero":false}}}},
{"data":{"name":"notes"},"transform":[{"filter":"datum.p==='B'"}],"mark":{"type":"rule","color":"#000","strokeWidth":1.4},
"encoding":{"x":{"field":"t1","type":"quantitative","scale":{"domain":[35,95],"nice":false}},"y":{"field":"v1","type":"quantitative","scale":{"domain":[-0.01,0.07],"nice":false,"zero":false}},"x2":{"field":"t2"},"y2":{"field":"v2"}}},
{"data":{"name":"notes"},"transform":[{"filter":"datum.p==='B'"}],"mark":{"type":"point","shape":"triangle-right","filled":true,"color":"#000","opacity":1,"size":55},
"encoding":{"x":{"field":"t2","type":"quantitative","scale":{"domain":[35,95],"nice":false}},"y":{"field":"v2","type":"quantitative","scale":{"domain":[-0.01,0.07],"nice":false,"zero":false}},"angle":{"field":"dir","type":"quantitative","scale":null}}},
{"data":{"name":"notes"},"transform":[{"filter":"datum.p==='B'"}],"mark":{"type":"text","fontWeight":"bold","fontSize":12,"font":"Liberation Sans","color":"#000"},
"encoding":{"x":{"field":"lt","type":"quantitative","scale":{"domain":[35,95],"nice":false}},"y":{"field":"lv","type":"quantitative","scale":{"domain":[-0.01,0.07],"nice":false,"zero":false}},"text":{"field":"lab"}}}
]},
{"width":176,"height":171,"title":{"text":"C) HPA-3 T>C"},
"layer":[
{"data":{"name":"curves"},"transform":[{"filter":"datum.p==='C' && datum.s==='bl'"}],"mark":{"type":"line","color":"#b8b8b8","strokeWidth":1},
"encoding":{"x":{"field":"t","type":"quantitative","scale":{"domain":[35,95],"nice":false},"axis":{"values":[35,55,75,95],"labels":false,"title":null}},
"y":{"field":"v","type":"quantitative","scale":{"domain":[-0.01,0.19],"nice":false,"zero":false},"axis":{"values":[0.04,0.09,0.14,0.19],"format":".2f","title":null}}}},
{"data":{"name":"curves"},"transform":[{"filter":"datum.p==='C' && (datum.s==='ab' || datum.s==='bb')"}],"mark":{"type":"line","strokeWidth":1.5},
"encoding":{"x":{"field":"t","type":"quantitative","scale":{"domain":[35,95],"nice":false}},"y":{"field":"v","type":"quantitative","scale":{"domain":[-0.01,0.19],"nice":false,"zero":false}},"color":{"field":"s","type":"nominal","scale":{"domain":["ab","bb"],"range":["#6e6e6e","#8c8c8c"]},"legend":null}}},
{"data":{"name":"curves"},"transform":[{"filter":"datum.p==='C' && datum.s==='aa'"}],"mark":{"type":"line","color":"#000","strokeWidth":2.2},
"encoding":{"x":{"field":"t","type":"quantitative","scale":{"domain":[35,95],"nice":false}},"y":{"field":"v","type":"quantitative","scale":{"domain":[-0.01,0.19],"nice":false,"zero":false}}}},
{"data":{"name":"notes"},"transform":[{"filter":"datum.p==='C'"}],"mark":{"type":"rule","color":"#000","strokeWidth":1.4},
"encoding":{"x":{"field":"t1","type":"quantitative","scale":{"domain":[35,95],"nice":false}},"y":{"field":"v1","type":"quantitative","scale":{"domain":[-0.01,0.19],"nice":false,"zero":false}},"x2":{"field":"t2"},"y2":{"field":"v2"}}},
{"data":{"name":"notes"},"transform":[{"filter":"datum.p==='C'"}],"mark":{"type":"point","shape":"triangle-right","filled":true,"color":"#000","opacity":1,"size":55},
"encoding":{"x":{"field":"t2","type":"quantitative","scale":{"domain":[35,95],"nice":false}},"y":{"field":"v2","type":"quantitative","scale":{"domain":[-0.01,0.19],"nice":false,"zero":false}},"angle":{"field":"dir","type":"quantitative","scale":null}}},
{"data":{"name":"notes"},"transform":[{"filter":"datum.p==='C'"}],"mark":{"type":"text","fontWeight":"bold","fontSize":12,"font":"Liberation Sans","color":"#000"},
"encoding":{"x":{"field":"lt","type":"quantitative","scale":{"domain":[35,95],"nice":false}},"y":{"field":"lv","type":"quantitative","scale":{"domain":[-0.01,0.19],"nice":false,"zero":false}},"text":{"field":"lab"}}}
]}
],"spacing":18,"bounds":"flush"},
{"hconcat":[
{"width":184,"height":174,"title":{"text":"D) HPA-4 G>A"},
"layer":[
{"data":{"name":"curves"},"transform":[{"filter":"datum.p==='D' && datum.s==='bl'"}],"mark":{"type":"line","color":"#b8b8b8","strokeWidth":1},
"encoding":{"x":{"field":"t","type":"quantitative","scale":{"domain":[35,95],"nice":false},"axis":{"values":[35,55,75,95],"format":"d","title":"Temperature (°C)"}},
"y":{"field":"v","type":"quantitative","scale":{"domain":[-0.002,0.002],"nice":false,"zero":false},"axis":{"values":[-0.001,0,0.001,0.002],"labelExpr":"datum.value < 0 ? '-' + format(-datum.value, '~g') : format(datum.value, '~g')","title":"-dF/dT","titleX":-36,"titleY":101,"titleBaseline":"middle"}}}},
{"data":{"name":"curves"},"transform":[{"filter":"datum.p==='D' && (datum.s==='ab' || datum.s==='bb')"}],"mark":{"type":"line","strokeWidth":1.5},
"encoding":{"x":{"field":"t","type":"quantitative","scale":{"domain":[35,95],"nice":false}},"y":{"field":"v","type":"quantitative","scale":{"domain":[-0.002,0.002],"nice":false,"zero":false}},"color":{"field":"s","type":"nominal","scale":{"domain":["ab","bb"],"range":["#6e6e6e","#8c8c8c"]},"legend":null}}},
{"data":{"name":"curves"},"transform":[{"filter":"datum.p==='D' && datum.s==='aa'"}],"mark":{"type":"line","color":"#000","strokeWidth":2.2},
"encoding":{"x":{"field":"t","type":"quantitative","scale":{"domain":[35,95],"nice":false}},"y":{"field":"v","type":"quantitative","scale":{"domain":[-0.002,0.002],"nice":false,"zero":false}}}},
{"data":{"name":"notes"},"transform":[{"filter":"datum.p==='D'"}],"mark":{"type":"rule","color":"#000","strokeWidth":1.4},
"encoding":{"x":{"field":"t1","type":"quantitative","scale":{"domain":[35,95],"nice":false}},"y":{"field":"v1","type":"quantitative","scale":{"domain":[-0.002,0.002],"nice":false,"zero":false}},"x2":{"field":"t2"},"y2":{"field":"v2"}}},
{"data":{"name":"notes"},"transform":[{"filter":"datum.p==='D'"}],"mark":{"type":"point","shape":"triangle-right","filled":true,"color":"#000","opacity":1,"size":55},
"encoding":{"x":{"field":"t2","type":"quantitative","scale":{"domain":[35,95],"nice":false}},"y":{"field":"v2","type":"quantitative","scale":{"domain":[-0.002,0.002],"nice":false,"zero":false}},"angle":{"field":"dir","type":"quantitative","scale":null}}},
{"data":{"name":"notes"},"transform":[{"filter":"datum.p==='D'"}],"mark":{"type":"text","fontWeight":"bold","fontSize":12,"font":"Liberation Sans","color":"#000"},
"encoding":{"x":{"field":"lt","type":"quantitative","scale":{"domain":[35,95],"nice":false}},"y":{"field":"lv","type":"quantitative","scale":{"domain":[-0.002,0.002],"nice":false,"zero":false}},"text":{"field":"lab"}}}
]},
{"width":194,"height":174,"title":{"text":"E) HPA-5 G>A","dx":14},
"layer":[
{"data":{"name":"curves"},"transform":[{"filter":"datum.p==='E' && datum.s==='bl'"}],"mark":{"type":"line","color":"#b8b8b8","strokeWidth":1},
"encoding":{"x":{"field":"t","type":"quantitative","scale":{"domain":[35,95],"nice":false},"axis":{"values":[35,55,75,95],"format":"d","title":"Temperature (°C)"}},
"y":{"field":"v","type":"quantitative","scale":{"domain":[-0.02,0.12],"nice":false,"zero":false},"axis":{"values":[0.02,0.06,0.1],"format":".2f","title":null}}}},
{"data":{"name":"curves"},"transform":[{"filter":"datum.p==='E' && (datum.s==='ab' || datum.s==='bb')"}],"mark":{"type":"line","strokeWidth":1.5},
"encoding":{"x":{"field":"t","type":"quantitative","scale":{"domain":[35,95],"nice":false}},"y":{"field":"v","type":"quantitative","scale":{"domain":[-0.02,0.12],"nice":false,"zero":false}},"color":{"field":"s","type":"nominal","scale":{"domain":["ab","bb"],"range":["#8a8a8a","#7a7a7a"]},"legend":null}}},
{"data":{"name":"curves"},"transform":[{"filter":"datum.p==='E' && datum.s==='aa'"}],"mark":{"type":"line","color":"#000","strokeWidth":2.2},
"encoding":{"x":{"field":"t","type":"quantitative","scale":{"domain":[35,95],"nice":false}},"y":{"field":"v","type":"quantitative","scale":{"domain":[-0.02,0.12],"nice":false,"zero":false}}}},
{"data":{"name":"notes"},"transform":[{"filter":"datum.p==='E'"}],"mark":{"type":"rule","color":"#000","strokeWidth":1.4},
"encoding":{"x":{"field":"t1","type":"quantitative","scale":{"domain":[35,95],"nice":false}},"y":{"field":"v1","type":"quantitative","scale":{"domain":[-0.02,0.12],"nice":false,"zero":false}},"x2":{"field":"t2"},"y2":{"field":"v2"}}},
{"data":{"name":"notes"},"transform":[{"filter":"datum.p==='E'"}],"mark":{"type":"point","shape":"triangle-right","filled":true,"color":"#000","opacity":1,"size":55},
"encoding":{"x":{"field":"t2","type":"quantitative","scale":{"domain":[35,95],"nice":false}},"y":{"field":"v2","type":"quantitative","scale":{"domain":[-0.02,0.12],"nice":false,"zero":false}},"angle":{"field":"dir","type":"quantitative","scale":null}}},
{"data":{"name":"notes"},"transform":[{"filter":"datum.p==='E'"}],"mark":{"type":"text","fontWeight":"bold","fontSize":12,"font":"Liberation Sans","color":"#000"},
"encoding":{"x":{"field":"lt","type":"quantitative","scale":{"domain":[35,95],"nice":false}},"y":{"field":"lv","type":"quantitative","scale":{"domain":[-0.02,0.12],"nice":false,"zero":false}},"text":{"field":"lab"}}}
]},
{"width":176,"height":174,"title":{"text":"F) HPA-15 A>C"},
"layer":[
{"data":{"name":"curves"},"transform":[{"filter":"datum.p==='F' && datum.s==='bl'"}],"mark":{"type":"line","color":"#b8b8b8","strokeWidth":1},
"encoding":{"x":{"field":"t","type":"quantitative","scale":{"domain":[35,95],"nice":false},"axis":{"values":[35,55,75,95],"format":"d","title":"Temperature (°C)"}},
"y":{"field":"v","type":"quantitative","scale":{"domain":[-0.03,0.27],"nice":false,"zero":false},"axis":{"values":[0.07,0.17,0.27],"format":".2f","title":null}}}},
{"data":{"name":"curves"},"transform":[{"filter":"datum.p==='F' && (datum.s==='ab' || datum.s==='bb')"}],"mark":{"type":"line","strokeWidth":1.5},
"encoding":{"x":{"field":"t","type":"quantitative","scale":{"domain":[35,95],"nice":false}},"y":{"field":"v","type":"quantitative","scale":{"domain":[-0.03,0.27],"nice":false,"zero":false}},"color":{"field":"s","type":"nominal","scale":{"domain":["ab","bb"],"range":["#6e6e6e","#8c8c8c"]},"legend":null}}},
{"data":{"name":"curves"},"transform":[{"filter":"datum.p==='F' && datum.s==='aa'"}],"mark":{"type":"line","color":"#000","strokeWidth":2.2},
"encoding":{"x":{"field":"t","type":"quantitative","scale":{"domain":[35,95],"nice":false}},"y":{"field":"v","type":"quantitative","scale":{"domain":[-0.03,0.27],"nice":false,"zero":false}}}},
{"data":{"name":"notes"},"transform":[{"filter":"datum.p==='F'"}],"mark":{"type":"rule","color":"#000","strokeWidth":1.4},
"encoding":{"x":{"field":"t1","type":"quantitative","scale":{"domain":[35,95],"nice":false}},"y":{"field":"v1","type":"quantitative","scale":{"domain":[-0.03,0.27],"nice":false,"zero":false}},"x2":{"field":"t2"},"y2":{"field":"v2"}}},
{"data":{"name":"notes"},"transform":[{"filter":"datum.p==='F'"}],"mark":{"type":"point","shape":"triangle-right","filled":true,"color":"#000","opacity":1,"size":55},
"encoding":{"x":{"field":"t2","type":"quantitative","scale":{"domain":[35,95],"nice":false}},"y":{"field":"v2","type":"quantitative","scale":{"domain":[-0.03,0.27],"nice":false,"zero":false}},"angle":{"field":"dir","type":"quantitative","scale":null}}},
{"data":{"name":"notes"},"transform":[{"filter":"datum.p==='F'"}],"mark":{"type":"text","fontWeight":"bold","fontSize":12,"font":"Liberation Sans","color":"#000"},
"encoding":{"x":{"field":"lt","type":"quantitative","scale":{"domain":[35,95],"nice":false}},"y":{"field":"lv","type":"quantitative","scale":{"domain":[-0.03,0.27],"nice":false,"zero":false}},"text":{"field":"lab"}}}
]}
],"spacing":18,"bounds":"flush"}
],
"spacing":42
}
